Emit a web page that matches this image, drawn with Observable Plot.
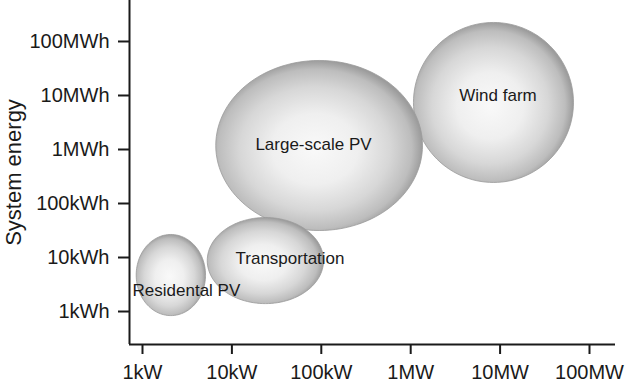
<!DOCTYPE html>
<html>
<head>
<meta charset="utf-8">
<script src="https://cdn.jsdelivr.net/npm/d3@7"></script>
<script src="https://cdn.jsdelivr.net/npm/@observablehq/plot@0.6"></script>
<style>
  html, body { margin: 0; padding: 0; background: #fff; }
  #chart { width: 640px; height: 392px; }
</style>
</head>
<body>
<div id="chart"></div>
<script>
// Categories (drawn back to front)
const names = ["Wind farm", "Large-scale PV", "Transportation", "Residental PV"];
// Extent of each bubble: system power (kW) and system energy (kWh)
const powerMin = [1074, 6.6, 5.3, 0.85];
const powerMax = [66200, 1355, 106, 5.07];
const energyMin = [245, 31.6, 1.4, 0.84];
const energyMax = [225000, 44500, 55, 26.7];
// Where each name label sits (kW, kWh)
const labelPower = [9480, 81.8, 44.7, 3.1];
const labelEnergy = [10000, 1238, 9.58, 2.45];
// Axis ticks
const xTicks = [1, 10, 100, 1000, 10000, 100000];
const xTickLabels = ["1kW", "10kW", "100kW", "1MW", "10MW", "100MW"];
const yTicks = [1, 10, 100, 1000, 10000, 100000];
const yTickLabels = ["1kWh", "10kWh", "100kWh", "1MWh", "10MWh", "100MWh"];
const yTitle = "System energy";

// Domains (kW, kWh)
const xDomain = [0.7155, 195400];
const yDomain = [0.245, 574000];

// Build bubble outlines (ellipses in log space) from the extents
const outline = [];
names.forEach((name, i) => {
  const lx0 = Math.log10(powerMin[i]), lx1 = Math.log10(powerMax[i]);
  const ly0 = Math.log10(energyMin[i]), ly1 = Math.log10(energyMax[i]);
  const cx = (lx0 + lx1) / 2, rx = (lx1 - lx0) / 2;
  const cy = (ly0 + ly1) / 2, ry = (ly1 - ly0) / 2;
  for (let k = 0; k < 120; k++) {
    const t = 2 * Math.PI * k / 120;
    outline.push({name, power: 10 ** (cx + rx * Math.cos(t)), energy: 10 ** (cy + ry * Math.sin(t))});
  }
});
const labels = names.map((name, i) => ({name, power: labelPower[i], energy: labelEnergy[i]}));

const plot = Plot.plot({
  width: 640,
  height: 392,
  marginLeft: 129,
  marginRight: 25,
  marginTop: 0,
  marginBottom: 48,
  style: {fontFamily: "'Liberation Sans', Arial, sans-serif", fontSize: "20px", color: "#1a1a1a", background: "#ffffff"},
  x: {type: "log", domain: xDomain},
  y: {type: "log", domain: yDomain},
  marks: [
    Plot.line(outline, {x: "power", y: "energy", z: "name", curve: "linear-closed",
      fill: "url(#bubbleGrad)", stroke: "#9a9a9a", strokeWidth: 0.8}),
    Plot.text(labels, {x: "power", y: "energy", text: "name", fontSize: 17, fill: "#1a1a1a"}),
    Plot.axisX(xTicks, {tickFormat: (d) => xTickLabels[xTicks.indexOf(d)], tickSize: 10, tickPadding: 10, strokeWidth: 2, fontSize: 20, label: null}),
    Plot.axisY(yTicks, {tickFormat: (d) => yTickLabels[yTicks.indexOf(d)], tickSize: 11, tickPadding: 9, strokeWidth: 2, fontSize: 20, label: null}),
    Plot.ruleX([xDomain[0]], {stroke: "#1a1a1a", strokeWidth: 2}),
    Plot.ruleY([yDomain[0]], {stroke: "#1a1a1a", strokeWidth: 2}),
    Plot.text([yTitle], {frameAnchor: "left", dx: -116, rotate: -90, textAnchor: "middle", lineAnchor: "middle", fontSize: 22, fill: "#1a1a1a"})
  ]
});

// Radial shading for the bubbles
const NS = "http://www.w3.org/2000/svg";
const defs = document.createElementNS(NS, "defs");
const grad = document.createElementNS(NS, "radialGradient");
grad.setAttribute("id", "bubbleGrad");
grad.setAttribute("cx", "0.48");
grad.setAttribute("cy", "0.52");
grad.setAttribute("r", "0.52");
[[0, "#f9f9f9"], [0.4, "#efefef"], [0.7, "#d7d7d7"], [0.9, "#bdbdbd"], [1, "#9c9c9c"]].forEach(([o, c]) => {
  const s = document.createElementNS(NS, "stop");
  s.setAttribute("offset", o);
  s.setAttribute("stop-color", c);
  grad.appendChild(s);
});
defs.appendChild(grad);
plot.insertBefore(defs, plot.firstChild);

document.getElementById("chart").appendChild(plot);
</script>
</body>
</html>
